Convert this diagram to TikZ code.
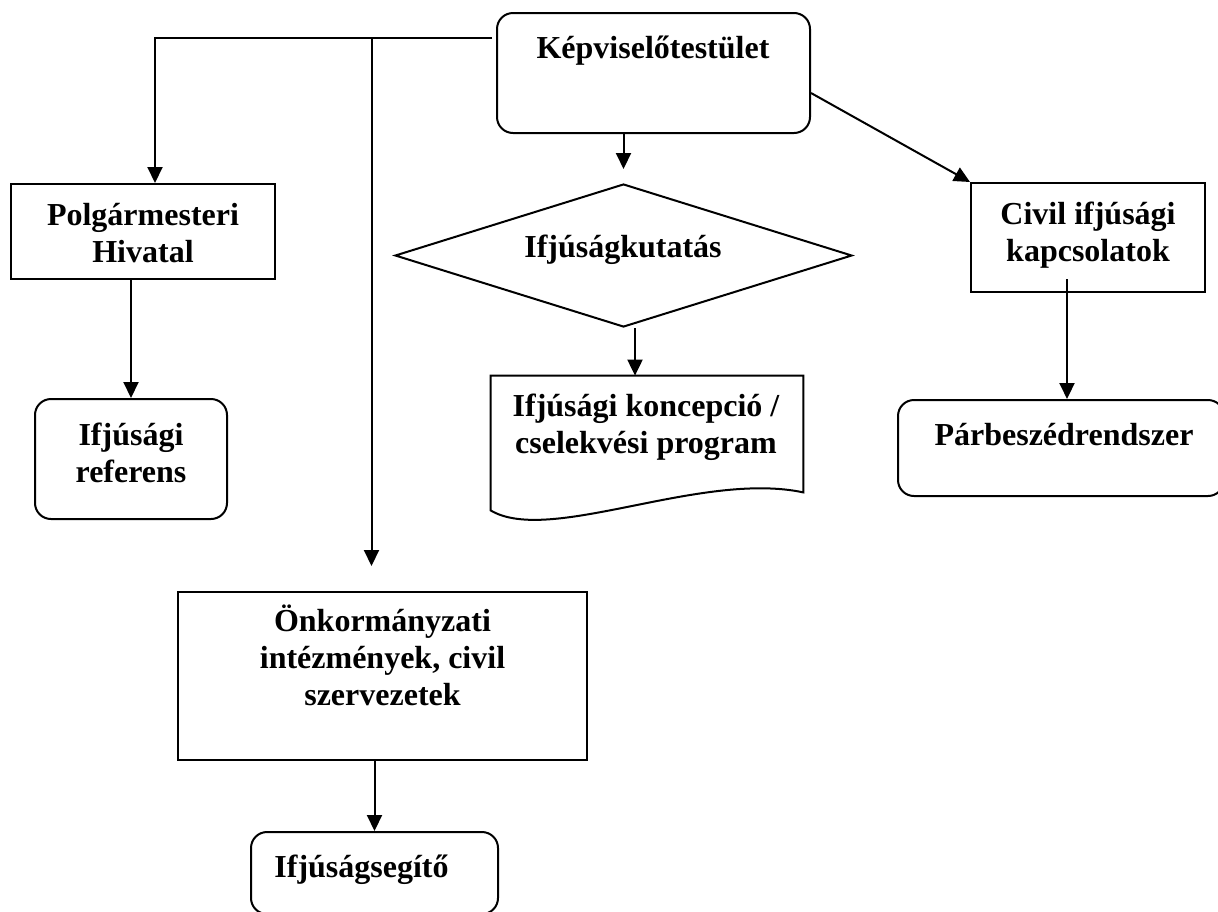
\documentclass[tikz,border=0pt]{standalone}
\usepackage{fontspec}
\setmainfont{Liberation Serif}
\usepackage{tikz}
\usetikzlibrary{calc}
\usetikzlibrary{shapes.geometric}
\usetikzlibrary{arrows.meta}
\tikzset{
  cellbox/.style={draw, line width=1pt, inner sep=0pt},
  roundbox/.style={cellbox, rounded corners=8pt},
  lbltext/.style={font=\fontsize{16}{18.4}\selectfont\bfseries, align=center, inner sep=0pt, anchor=base},
  conn/.style={line width=1pt, -{Triangle[length=8pt,width=7.5pt]}},
}

\begin{document}
\begin{tikzpicture}[x=0.5pt,y=-0.5pt]

        \useasboundingbox (0,0) rectangle (1218,911);
        \clip (0,0) rectangle (1218,911);

        % boxes
        \node[roundbox, minimum width=156.5pt, minimum height=60pt] (kt) at (653.5,73) {};
        \node[cellbox, minimum width=132pt, minimum height=47.5pt] (ph) at (143,231.5) {};
        \node[roundbox, minimum width=96pt, minimum height=60pt] (ir) at (131,459) {};
        \node[cellbox, diamond, minimum width=228.5pt, minimum height=71.5pt] (dia) at (623.5,255.5) {};
        \node[inner sep=0pt, minimum width=156pt, minimum height=58pt] (doc) at (647,434) {};
        \node[cellbox, minimum width=117pt, minimum height=54.5pt] (civ) at (1088,237.5) {};
        \node[roundbox, minimum width=163pt, minimum height=48pt] (pb) at (1061,448) {};
        \node[cellbox, minimum width=204.5pt, minimum height=84pt] (onk) at (382.5,676) {};
        \node[roundbox, minimum width=123.5pt, minimum height=41pt] (seg) at (374.5,873) {};

        \draw[line width=1pt] (doc.north west) -- (doc.north east) -- (doc.south east)
            .. controls +(-103,-22) and +(59,35) .. ($(doc.south west)+(0,18)$) -- cycle;

        % texts (base = last line)
        \node[lbltext] (ktT) at (653,58) {Képviselőtestület};
        \node[lbltext] (phT) at (143,262) {Polgármesteri\\Hivatal};
        \node[lbltext] (irT) at (131,482) {Ifjúsági\\referens};
        \node[lbltext] (diaT) at (623,257) {Ifjúságkutatás};
        \node[lbltext] (docT) at (646,453) {Ifjúsági koncepció /\\cselekvési program};
        \node[lbltext] (civT) at (1088,261) {Civil ifjúsági\\kapcsolatok};
        \node[lbltext] (pbT) at (1064,445) {Párbeszédrendszer};
        \node[lbltext] (onkT) at (382.5,705) {Önkormányzati\\intézmények, civil\\szervezetek};
        \node[lbltext] (segT) at (361.5,877) {Ifjúságsegítő};

        % connectors
        \coordinate (ktL) at ($(kt.north west)+(-4,26)$);
        \coordinate (onkIn) at ($(onk.north)+(-11,0)$);
        \coordinate (docIn) at ($(doc.north)+(-12,0)$);
        \coordinate (cvOut) at ($(civ.south)+(-21,-14)$);

        \draw[conn] (ktL) -| ($(ph.north)+(12,0)$);
        \draw[conn, shorten >=12.5pt] (ktL -| onkIn) -- (onkIn);
        \draw[conn, shorten >=7pt] (kt.south -| dia.north) -- (dia.north);
        \draw[conn] (dia.south -| docIn) -- (docIn);
        \draw[conn] ($(kt.east)+(0,20)$) -- (civ.north west);
        \draw[conn] (cvOut) -- (cvOut |- pb.north);
        \draw[conn] (ph.south -| ir.north) -- (ir.north);
        \draw[conn] (onk.south -| seg.north) -- (seg.north);

\end{tikzpicture}
\end{document}
